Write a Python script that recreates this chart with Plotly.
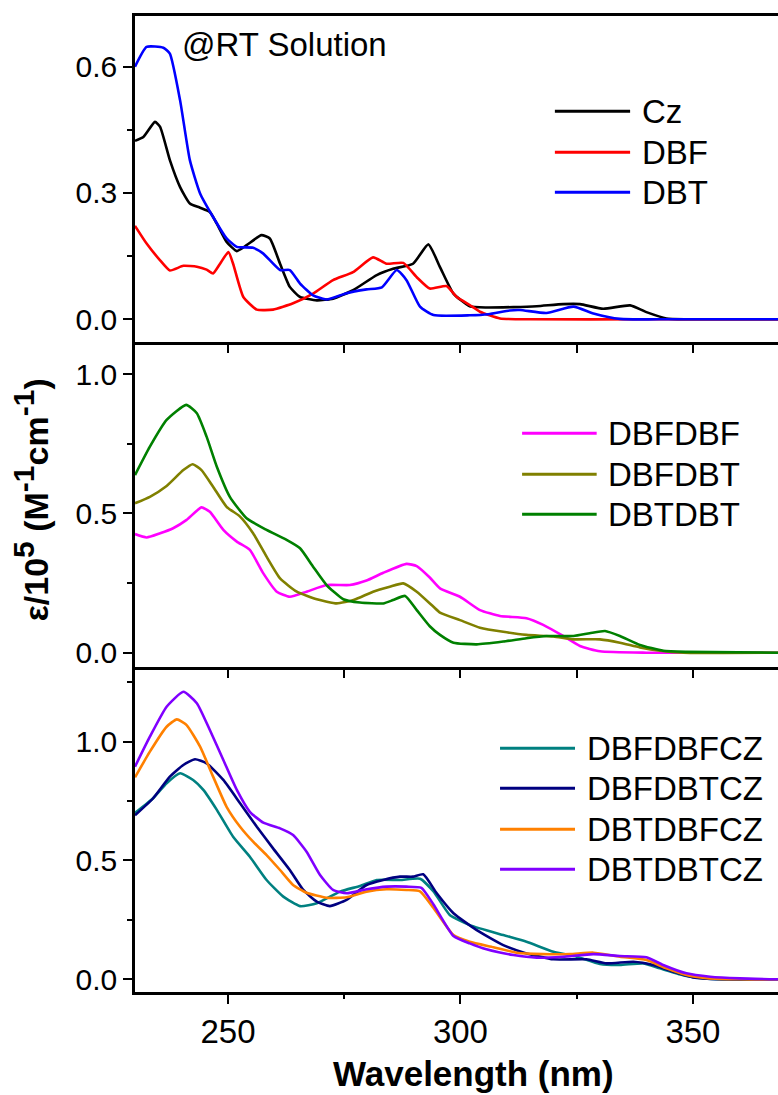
import plotly.graph_objects as go

# ---------------- absorption spectra (wavelength in nm, epsilon / 1e5 M^-1 cm^-1) ----------------
# top panel: building blocks
cz_wl = [230.0, 231.8, 234.3, 235.4, 237.5, 239.7, 241.8, 244.0, 246.1, 247.6, 249.7, 251.9, 254.0,
         257.2, 259.0, 261.2, 263.3, 265.5, 269.1, 272.6, 276.9, 282.0, 285.5, 289.8, 293.1, 295.6,
         298.5, 302.0, 305.6, 311.4, 316.4, 322.1, 325.7, 330.7, 336.5, 340.0, 344.3, 348.6, 368.3]
cz_eps = [0.424, 0.433, 0.469, 0.457, 0.378, 0.314, 0.275, 0.265, 0.255, 0.227, 0.184, 0.162, 0.176,
          0.200, 0.192, 0.132, 0.077, 0.053, 0.045, 0.049, 0.069, 0.105, 0.120, 0.132, 0.178, 0.124,
          0.061, 0.031, 0.028, 0.029, 0.031, 0.036, 0.036, 0.025, 0.033, 0.017, 0.002, 0.0, 0.0]

dbf_wl = [230.0, 232.5, 235.4, 237.5, 240.4, 243.3, 245.4, 246.8, 248.3, 250.1, 251.1, 253.3, 256.2,
          259.7, 264.0, 268.3, 272.6, 276.9, 281.2, 284.1, 287.7, 290.6, 293.4, 297.0, 299.2, 302.0,
          304.2, 308.5, 315.0, 340.0, 368.3]
dbf_eps = [0.222, 0.180, 0.140, 0.116, 0.127, 0.125, 0.118, 0.109, 0.132, 0.160, 0.132, 0.053, 0.023,
           0.023, 0.038, 0.061, 0.093, 0.112, 0.147, 0.132, 0.134, 0.100, 0.073, 0.079, 0.053, 0.034,
           0.018, 0.002, 0.0, 0.0, 0.0]

dbt_wl = [230.0, 232.5, 236.1, 237.5, 239.7, 241.8, 244.0, 246.8, 249.7, 251.9, 255.4, 257.6, 261.2,
          263.3, 265.5, 268.3, 271.2, 275.5, 279.8, 283.1, 286.3, 288.4, 291.3, 294.2, 302.0, 306.0,
          310.6, 312.8, 318.5, 324.3, 328.6, 334.3, 345.0, 368.3]
dbt_eps = [0.600, 0.647, 0.645, 0.631, 0.520, 0.378, 0.299, 0.243, 0.192, 0.172, 0.170, 0.156, 0.117,
           0.117, 0.085, 0.057, 0.047, 0.062, 0.071, 0.076, 0.117, 0.093, 0.030, 0.010, 0.0095, 0.012,
           0.021, 0.022, 0.015, 0.030, 0.014, 0.001, 0.0, 0.0]

# middle panel: dimers
dbfdbf_wl = [230.0, 232.5, 235.4, 238.2, 241.1, 244.3, 246.1, 249.0, 251.9, 254.7, 257.6, 260.5, 263.3,
             266.9, 271.2, 276.2, 279.8, 283.4, 288.4, 290.6, 293.4, 295.6, 299.9, 304.2, 308.5, 314.2,
             317.8, 322.1, 325.7, 330.0, 340.0, 368.3]
dbfdbf_eps = [0.426, 0.414, 0.429, 0.447, 0.477, 0.522, 0.506, 0.441, 0.399, 0.369, 0.285, 0.219, 0.201,
              0.219, 0.243, 0.243, 0.259, 0.287, 0.319, 0.311, 0.270, 0.231, 0.201, 0.153, 0.132, 0.124,
              0.100, 0.060, 0.024, 0.005, 0.0, 0.0]

dbfdbt_wl = [230.0, 233.2, 236.8, 240.4, 242.4, 244.3, 246.8, 249.7, 252.6, 255.4, 258.3, 261.2, 264.8,
             269.1, 273.4, 277.0, 281.2, 284.8, 287.7, 290.6, 294.2, 295.6, 299.9, 304.2, 309.2, 314.2,
             320.0, 324.3, 330.0, 334.3, 338.6, 342.9, 348.0, 368.3]
dbfdbt_eps = [0.537, 0.560, 0.599, 0.656, 0.677, 0.656, 0.596, 0.524, 0.489, 0.429, 0.345, 0.267, 0.219,
              0.192, 0.177, 0.189, 0.219, 0.237, 0.249, 0.219, 0.165, 0.144, 0.117, 0.090, 0.075, 0.064,
              0.058, 0.048, 0.048, 0.036, 0.019, 0.007, 0.0, 0.0]

dbtdbt_wl = [230.0, 233.2, 236.8, 241.0, 243.3, 245.4, 247.6, 250.4, 254.0, 258.3, 262.6, 265.5, 268.3,
             271.2, 274.8, 278.4, 283.4, 285.5, 288.1, 290.6, 293.4, 295.6, 298.5, 303.5, 309.2, 314.2,
             318.5, 324.3, 327.8, 331.1, 334.3, 338.6, 343.6, 348.6, 368.3]
dbtdbt_eps = [0.638, 0.740, 0.836, 0.890, 0.860, 0.776, 0.668, 0.560, 0.483, 0.441, 0.405, 0.375, 0.309,
              0.243, 0.192, 0.180, 0.177, 0.189, 0.204, 0.153, 0.095, 0.064, 0.036, 0.030, 0.040, 0.052,
              0.060, 0.060, 0.070, 0.078, 0.060, 0.028, 0.007, 0.003, 0.0]

# bottom panel: carbazole-substituted dimers
dbfdbfcz_wl = [230.0, 233.9, 236.8, 239.7, 242.5, 244.7, 247.6, 251.1, 254.7, 258.3, 261.9, 265.5, 269.1,
               274.1, 278.4, 282.0, 287.0, 291.3, 294.2, 297.7, 302.0, 309.2, 314.2, 320.0, 325.0, 330.0,
               334.3, 339.3, 342.9, 348.6, 355.0, 368.3]
dbfdbfcz_eps = [0.700, 0.762, 0.825, 0.867, 0.839, 0.797, 0.713, 0.600, 0.516, 0.418, 0.348, 0.308, 0.320,
                0.369, 0.393, 0.418, 0.418, 0.423, 0.370, 0.271, 0.228, 0.186, 0.158, 0.116, 0.095, 0.064,
                0.060, 0.067, 0.046, 0.014, 0.0, 0.0]

dbfdbtcz_wl = [230.0, 233.9, 237.5, 240.4, 242.9, 245.4, 249.0, 252.6, 256.2, 259.7, 263.3, 266.2, 269.1,
               271.9, 275.5, 279.8, 283.4, 287.0, 289.8, 292.0, 294.9, 298.5, 303.5, 309.2, 314.2, 320.0,
               327.1, 331.4, 337.2, 341.5, 345.8, 350.0, 356.0, 368.3]
dbfdbtcz_eps = [0.690, 0.762, 0.853, 0.902, 0.926, 0.909, 0.839, 0.741, 0.642, 0.551, 0.460, 0.376, 0.327,
                0.308, 0.334, 0.397, 0.418, 0.432, 0.432, 0.442, 0.362, 0.278, 0.207, 0.144, 0.109, 0.084,
                0.084, 0.067, 0.074, 0.060, 0.032, 0.008, 0.0, 0.0]

dbtdbfcz_wl = [230.0, 233.2, 236.8, 239.0, 241.1, 244.0, 246.8, 249.7, 252.6, 255.4, 258.3, 261.2, 264.0,
               266.9, 271.2, 275.5, 279.8, 284.1, 288.4, 291.3, 294.2, 298.5, 302.0, 307.1, 312.1, 317.8,
               323.5, 328.6, 334.3, 340.0, 344.3, 348.6, 353.0, 360.0, 368.3]
dbtdbfcz_eps = [0.850, 0.958, 1.063, 1.094, 1.070, 0.979, 0.853, 0.726, 0.642, 0.579, 0.523, 0.460, 0.397,
                0.364, 0.343, 0.345, 0.369, 0.379, 0.376, 0.370, 0.300, 0.186, 0.158, 0.135, 0.112, 0.106,
                0.106, 0.112, 0.095, 0.081, 0.046, 0.018, 0.005, 0.0, 0.0]

dbtdbtcz_wl = [230.0, 233.2, 236.8, 240.4, 243.3, 246.1, 249.0, 251.9, 254.7, 257.6, 261.2, 264.0, 266.9,
               269.8, 272.6, 275.5, 279.8, 284.1, 288.4, 291.6, 294.2, 298.5, 302.0, 305.6, 311.4, 316.4,
               322.1, 328.6, 334.3, 340.0, 343.6, 348.6, 353.7, 360.1, 368.3]
dbtdbtcz_eps = [0.895, 1.021, 1.147, 1.210, 1.162, 1.049, 0.923, 0.797, 0.705, 0.659, 0.635, 0.607, 0.537,
                0.439, 0.376, 0.362, 0.379, 0.390, 0.390, 0.385, 0.315, 0.182, 0.151, 0.126, 0.102, 0.091,
                0.095, 0.106, 0.098, 0.093, 0.060, 0.025, 0.011, 0.004, 0.0]

panels = {
    "top": [("Cz", cz_wl, cz_eps, "#000000"),
            ("DBF", dbf_wl, dbf_eps, "#ff0000"),
            ("DBT", dbt_wl, dbt_eps, "#0000ff")],
    "mid": [("DBFDBF", dbfdbf_wl, dbfdbf_eps, "#ff00ff"),
            ("DBFDBT", dbfdbt_wl, dbfdbt_eps, "#808000"),
            ("DBTDBT", dbtdbt_wl, dbtdbt_eps, "#008000")],
    "bot": [("DBFDBFCZ", dbfdbfcz_wl, dbfdbfcz_eps, "#008080"),
            ("DBFDBTCZ", dbfdbtcz_wl, dbfdbtcz_eps, "#000080"),
            ("DBTDBFCZ", dbtdbfcz_wl, dbtdbfcz_eps, "#ff8000"),
            ("DBTDBTCZ", dbtdbtcz_wl, dbtdbtcz_eps, "#8000ff")],
}
axis_of = {"top": ("x3", "y3"), "mid": ("x2", "y2"), "bot": ("x", "y")}

FONT = "Arial, Liberation Sans, sans-serif"
X_RANGE = [230.0, 368.3]

fig = go.Figure()
for key, series in panels.items():
    xa, ya = axis_of[key]
    for name, wl, eps, color in series:
        fig.add_trace(go.Scatter(
            x=wl, y=eps, name=name, mode="lines", xaxis=xa, yaxis=ya,
            line=dict(color=color, width=2.6, shape="spline", smoothing=0.5),
            showlegend=False,
        ))

# hand-drawn legends: long line samples followed by the series name
legend_layout = {
    "top": dict(x0=0.653, x1=0.770, xt=0.785, rows=[0.9024, 0.8604, 0.8194]),
    "mid": dict(x0=0.602, x1=0.718, xt=0.7325, rows=[0.5725, 0.5305, 0.4895]),
    "bot": dict(x0=0.5677, x1=0.6843, xt=0.6998, rows=[0.2497, 0.2087, 0.1667, 0.1258]),
}
shapes = []
annotations = []
for key, series in panels.items():
    lg = legend_layout[key]
    for (name, _, _, color), yy in zip(series, lg["rows"]):
        shapes.append(dict(type="line", xref="paper", yref="paper",
                           x0=lg["x0"], x1=lg["x1"], y0=yy, y1=yy,
                           line=dict(color=color, width=3)))
        annotations.append(dict(xref="paper", yref="paper", x=lg["xt"], y=yy,
                                xanchor="left", yanchor="middle", showarrow=False,
                                text=name, font=dict(family=FONT, size=33, color="black")))

annotations.append(dict(xref="paper", yref="paper", x=0.070, y=0.9704,
                        xanchor="left", yanchor="middle", showarrow=False,
                        text="@RT Solution", font=dict(family=FONT, size=33, color="black")))
annotations.append(dict(xref="paper", yref="paper", x=0.5257, y=-0.0833,
                        xanchor="center", yanchor="middle", showarrow=False,
                        text="<b>Wavelength (nm)</b>", font=dict(family=FONT, size=35, color="black")))
annotations.append(dict(xref="paper", yref="paper", x=-0.1617, y=0.5038,
                        xanchor="center", yanchor="middle", showarrow=False, textangle=-90,
                        text="<b>ε/10<sup><span style='font-size:30px'>5</span></sup> "
                             "(M<sup><span style='font-size:30px'>-1</span></sup>cm"
                             "<sup><span style='font-size:30px'>-1</span></sup>)</b>",
                        font=dict(family=FONT, size=34, color="black")))

axis_common = dict(showgrid=False, zeroline=False, showline=True, linecolor="black",
                   linewidth=2.5, ticks="outside", tickcolor="black", tickwidth=2,
                   ticklen=9, tickfont=dict(family=FONT, size=30, color="black"))

x_bottom = dict(axis_common, range=X_RANGE, anchor="y", domain=[0, 1],
                tick0=250, dtick=50, showticklabels=True,
                tickfont=dict(family=FONT, size=33, color="black"),
                minor=dict(ticks="outside", dtick=25, tick0=250, ticklen=4,
                           tickwidth=2, tickcolor="black"))
x_mid = dict(axis_common, range=X_RANGE, anchor="y2", matches="x",
             tick0=250, dtick=25, showticklabels=False)
x_top = dict(axis_common, range=X_RANGE, anchor="y3", matches="x",
             tick0=250, dtick=25, showticklabels=False, mirror=True)

y_minor = lambda d: dict(ticks="outside", dtick=d, ticklen=5, tickwidth=2, tickcolor="black")
y_bot = dict(axis_common, domain=[0.0, 0.3333], range=[-0.0535, 1.3157], anchor="x",
             tick0=0, dtick=0.5, tickformat=".1f", minor=y_minor(0.25))
y_mid = dict(axis_common, domain=[0.3333, 0.6663], range=[-0.0503, 1.1171], anchor="x2",
             tick0=0, dtick=0.5, tickformat=".1f", minor=y_minor(0.25))
y_top = dict(axis_common, domain=[0.6663, 1.0], range=[-0.0532, 0.7204], anchor="x3",
             tick0=0, dtick=0.3, tickformat=".1f", minor=y_minor(0.15))

fig.update_layout(
    width=778, height=1095,
    margin=dict(l=135, r=0, t=16, b=103),
    paper_bgcolor="white", plot_bgcolor="white",
    xaxis=x_bottom, xaxis2=x_mid, xaxis3=x_top,
    yaxis=y_bot, yaxis2=y_mid, yaxis3=y_top,
    shapes=shapes, annotations=annotations,
    showlegend=False,
)

fig.write_html("out.html")
